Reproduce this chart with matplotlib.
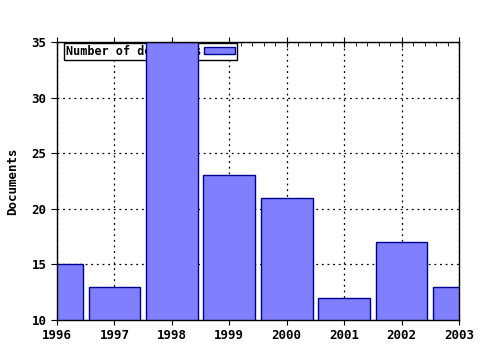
import matplotlib
matplotlib.use("Agg")
import matplotlib.pyplot as plt
from matplotlib.ticker import MultipleLocator

years = [1996, 1997, 1998, 1999, 2000, 2001, 2002, 2003]
documents = [15, 13, 35, 23, 21, 12, 17, 13]
yticks = [10, 15, 20, 25, 30, 35]

plt.rcParams['font.family'] = ['DejaVu Sans Mono']
plt.rcParams['font.weight'] = 'bold'

fig = plt.figure(figsize=(4.8, 3.5), dpi=100)
ax = fig.add_axes([57/480, 1-320/350, (459-57)/480, (320-42)/350])

ax.bar(years, documents, width=0.9, color='#8080ff', edgecolor='#000090',
       linewidth=1, label='Number of documents', zorder=3, bottom=0)
ax.set_xlim(1996, 2003)
ax.set_ylim(10, 35)
ax.set_xticks(years)
ax.set_xticklabels([str(y) for y in years])
ax.set_yticks(yticks)
ax.xaxis.set_minor_locator(MultipleLocator(0.2))

ax.grid(True, which='major', color='black', linestyle=(0, (1.5, 3)), linewidth=0.9, zorder=0)
ax.set_axisbelow(True)

for s in ax.spines.values():
    s.set_linewidth(1)
    s.set_color('black')
    s.set_zorder(5)

ax.tick_params(axis='x', which='major', direction='inout', length=7, labelsize=9, top=True, pad=3)
ax.tick_params(axis='x', which='minor', direction='in', length=3, top=True)
ax.tick_params(axis='y', which='major', direction='out', length=4, labelsize=9, right=False)
ax.tick_params(axis='y', which='minor', left=False, right=False)

ax.set_ylabel('Documents', fontsize=9, fontweight='bold', labelpad=9)

leg = ax.legend(loc='upper left', bbox_to_anchor=((64-57)/402, (320-43)/278),
                borderaxespad=0, fontsize=8.5, frameon=True, fancybox=False,
                markerfirst=False, handlelength=2.7, handleheight=0.5,
                borderpad=0.15, handletextpad=0.2, framealpha=1)
leg.get_frame().set_edgecolor('black')
leg.get_frame().set_linewidth(1)
leg.set_zorder(2)

fig.savefig('out.png', dpi=100)
